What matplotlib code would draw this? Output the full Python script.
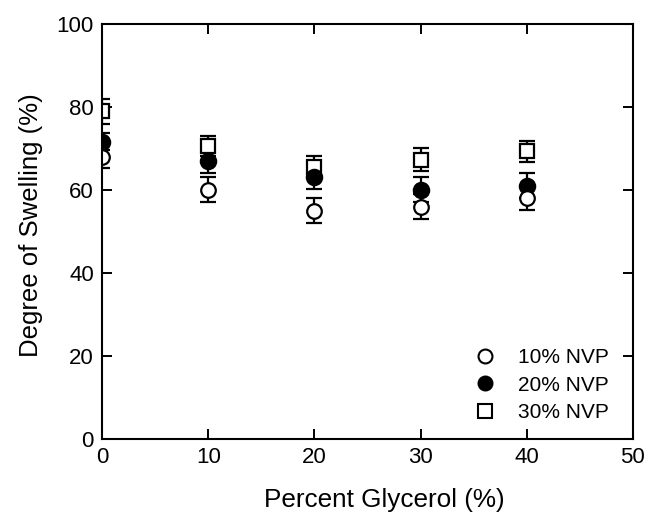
import matplotlib
matplotlib.use("Agg")
import matplotlib.pyplot as plt

plt.rcParams['font.family'] = ['Liberation Sans', 'DejaVu Sans']

glycerol = [0, 10, 20, 30, 40]
nvp10 = [68, 60, 55, 56, 58]
nvp10_err = [2.7, 3, 3, 3, 2.8]
nvp20 = [71.6, 67, 63, 60, 61]
nvp20_err = [2, 3, 2.7, 3, 3]
nvp30 = [79, 70.5, 65.5, 67.3, 69.3]
nvp30_err = [3, 2.4, 2.7, 2.8, 2.5]
labels = ['10% NVP', '20% NVP', '30% NVP']

fig = plt.figure(figsize=(6.47, 5.19), dpi=100)
ax = fig.add_axes([0.158, 0.154, 0.820, 0.800])

common = dict(color='black', ecolor='black', elinewidth=1.6, capsize=5.5,
              capthick=1.6, linestyle='none', markeredgewidth=1.6)
ax.errorbar(glycerol, nvp30, yerr=nvp30_err, marker='s', markerfacecolor='white',
            markersize=10, **common)
ax.errorbar(glycerol, nvp20, yerr=nvp20_err, marker='o', markerfacecolor='black',
            markersize=11, **common)
ax.errorbar(glycerol, nvp10, yerr=nvp10_err, marker='o', markerfacecolor='white',
            markersize=10.5, **common)

ax.set_xlim(0, 50)
ax.set_ylim(0, 100)
ax.set_xticks([0, 10, 20, 30, 40, 50])
ax.set_yticks([0, 20, 40, 60, 80, 100])
ax.tick_params(direction='in', length=7, width=1.4, labelsize=16, top=True, right=True, pad=6)
for s in ax.spines.values():
    s.set_linewidth(1.5)

ax.set_xlabel('Percent Glycerol (%)', fontsize=18.8, labelpad=14, x=0.532)
ax.set_ylabel('Degree of Swelling (%)', fontsize=18.5, labelpad=10, y=0.515)

leg_handles = [
    plt.Line2D([], [], marker='o', color='black', markerfacecolor='white', linestyle='none', markersize=10, markeredgewidth=1.5),
    plt.Line2D([], [], marker='o', color='black', markerfacecolor='black', linestyle='none', markersize=10, markeredgewidth=1.5),
    plt.Line2D([], [], marker='s', color='black', markerfacecolor='white', linestyle='none', markersize=10, markeredgewidth=1.5),
]
ax.legend(leg_handles, labels, loc='lower right', frameon=False, fontsize=15,
          handletextpad=0.6, labelspacing=0.42, bbox_to_anchor=(0.99, -0.005))

fig.savefig('out.png', dpi=100)
